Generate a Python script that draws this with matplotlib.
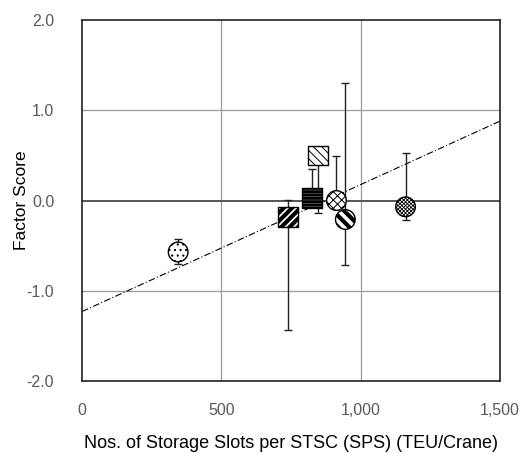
import matplotlib
matplotlib.use('Agg')
import matplotlib.pyplot as plt
import numpy as np

# data
sps = [345, 740, 825, 847, 913, 945, 1161]
score = [-0.57, -0.18, 0.03, 0.50, 0.00, -0.21, -0.07]
err_hi = [-0.43, 0.01, 0.35, 0.58, 0.49, 1.30, 0.53]
err_lo = [-0.70, -1.44, -0.05, -0.14, -0.05, -0.72, -0.22]
shapes = ['o', 's', 's', 's', 'o', 'o', 'o']
hatches = ['...', '////', '-----', '\\\\\\\\', 'xxxx', '\\\\\\', 'xxxxxxxxx']
hatch_lw = [0.8, 3.0, 2.2, 0.7, 0.7, 3.0, 0.6]

trend_x = [0, 1500]
trend_y = [-1.23, 0.88]

x_ticks = [0, 500, 1000, 1500]
x_labels = ['0', '500', '1,000', '1,500']
y_ticks = [-2.0, -1.0, 0.0, 1.0, 2.0]
y_labels = ['-2.0', '-1.0', '0.0', '1.0', '2.0']

plt.rcParams['font.family'] = ['Liberation Sans Narrow', 'Liberation Sans', 'DejaVu Sans']

fig = plt.figure(figsize=(5.21, 4.53), dpi=100)
ax = fig.add_axes([0.1574, 0.1589, 0.8023, 0.7969])

ax.set_xlim(0, 1500)
ax.set_ylim(-2, 2)

# grid
for gx in [500, 1000]:
    ax.axvline(gx, color='#9a9a9a', lw=0.9, zorder=0)
for gy in [-1, 1]:
    ax.axhline(gy, color='#9a9a9a', lw=0.9, zorder=0)
ax.axhline(0, color='#555555', lw=1.4, zorder=0)

ax.plot(trend_x, trend_y, color='black', lw=0.8, ls=(0, (6, 2, 1, 2)), zorder=1)

# error bars
yerr = np.array([np.array(score) - np.array(err_lo), np.array(err_hi) - np.array(score)])
ax.errorbar(sps, score, yerr=yerr, fmt='none', ecolor='#222222', elinewidth=1.0,
            capsize=3, capthick=1.0, zorder=2)

# hatched markers
for i in range(len(sps)):
    with plt.rc_context({'hatch.linewidth': hatch_lw[i], 'hatch.color': 'black'}):
        ax.scatter([sps[i]], [score[i]], s=200, marker=shapes[i], facecolor='white',
                   edgecolor='black', linewidth=1.0, hatch=hatches[i], zorder=3 + i)

ax.set_xticks(x_ticks)
ax.set_xticklabels(x_labels)
ax.set_yticks(y_ticks)
ax.set_yticklabels(y_labels)
ax.tick_params(axis='both', length=0, labelsize=11.5, labelcolor='#595959')
ax.tick_params(axis='x', pad=16)
ax.tick_params(axis='y', pad=20)

for sp in ax.spines.values():
    sp.set_color('#222222')
    sp.set_linewidth(1.2)

ax.set_xlabel('Nos. of Storage Slots per STSC (SPS) (TEU/Crane)', fontsize=13, labelpad=12)
ax.set_ylabel('Factor Score', fontsize=12.5)
ax.yaxis.set_label_coords(-0.128, 0.5)

fig.savefig('out.png', dpi=100)
